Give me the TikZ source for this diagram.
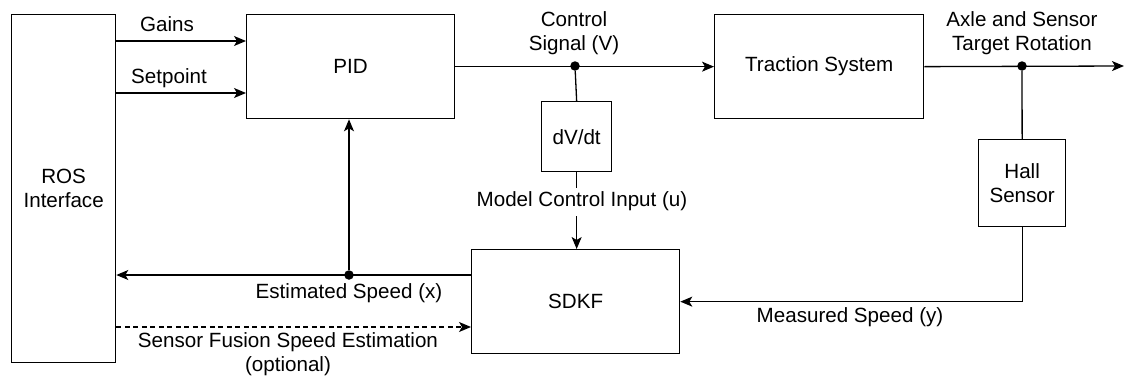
\documentclass[tikz,border=0pt]{standalone}
\usepackage{fontspec}
\setmainfont{Liberation Sans}
\usetikzlibrary{arrows.meta}
\begin{document}
\begin{tikzpicture}[x=1pt,y=-1pt,
  font=\fontsize{20.6}{24.5}\selectfont,
  blk/.style={draw,line width=1.3pt,inner sep=0pt,anchor=north west,align=center},
  conn/.style={line width=1.3pt},
  arr/.style={conn,-{Stealth[length=12pt,width=10pt,inset=3pt]}},
  lbl/.style={inner sep=0pt,align=center},
  dot/.style={circle,fill,inner sep=0pt,minimum size=9.5pt}]
\useasboundingbox (0,0) rectangle (1125,378);
% blocks
\node[blk,minimum width=104pt,minimum height=348pt] (ros) at (11,14) {ROS\\Interface};
\node[blk,minimum width=208pt,minimum height=104pt] (pid) at (246,14) {PID};
\node[blk,minimum width=209pt,minimum height=104pt] (trac) at (714,14) {Traction System};
\node[blk,minimum width=70pt,minimum height=70pt] (dvdt) at (541,101) {dV/dt};
\node[blk,minimum width=208pt,minimum height=104pt] (sdkf) at (471,249) {SDKF};
\node[blk,minimum width=87pt,minimum height=87pt] (hall) at (978,139) {Hall\\Sensor};
% helper coordinates
\coordinate (yg) at (0,41);
\coordinate (ys) at (0,93);
\coordinate (ye) at (0,275);
\coordinate (yd) at (0,327);
\coordinate (ym) at (0,301);
\node[dot] (j1) at (575,66) {};
\node[dot] (j2) at (1022,66) {};
\node[dot] (j3) at (349,275) {};
\coordinate (out) at (1124,66);
% labels
\node[lbl] (lg) at (167,24) {Gains};
\node[lbl] (ls) at (169,78) {Setpoint};
\node[lbl] (lc) at (574,33) {Control\\Signal (V)};
\node[lbl] (la) at (1022,33) {Axle and Sensor\\Target Rotation};
\node[lbl,inner ysep=3pt] (lu) at (582,201) {Model Control Input (u)};
\node[lbl] (le) at (349,293) {Estimated Speed (x)};
\node[lbl] (lf) at (288,354) {Sensor Fusion Speed Estimation\\(optional)};
\node[lbl] (lm) at (850,317) {Measured Speed (y)};
% connectors
\draw[arr] (ros.east |- yg) -- (pid.west |- yg);
\draw[arr] (ros.east |- ys) -- (pid.west |- ys);
\draw[arr] (pid.east) -- (trac.west);
\draw[conn] (j1) -- (dvdt.north);
\draw[conn] (dvdt.south) -- (dvdt.south |- lu.north);
\draw[arr] (sdkf.north -| dvdt.south) ++(0,-33) -- (sdkf.north -| dvdt.south);
\draw[arr] (trac.east) -- (out);
\draw[conn] (j2) -- (hall.north);
\draw[arr] (hall.south) |- (sdkf.east);
\draw[arr] (sdkf.west |- ye) -- (ros.east |- ye);
\draw[arr] (j3) -- (pid.south -| j3);
\draw[arr,dash pattern=on 5pt off 3.5pt] (ros.east |- yd) -- (sdkf.west |- yd);
\end{tikzpicture}
\end{document}
